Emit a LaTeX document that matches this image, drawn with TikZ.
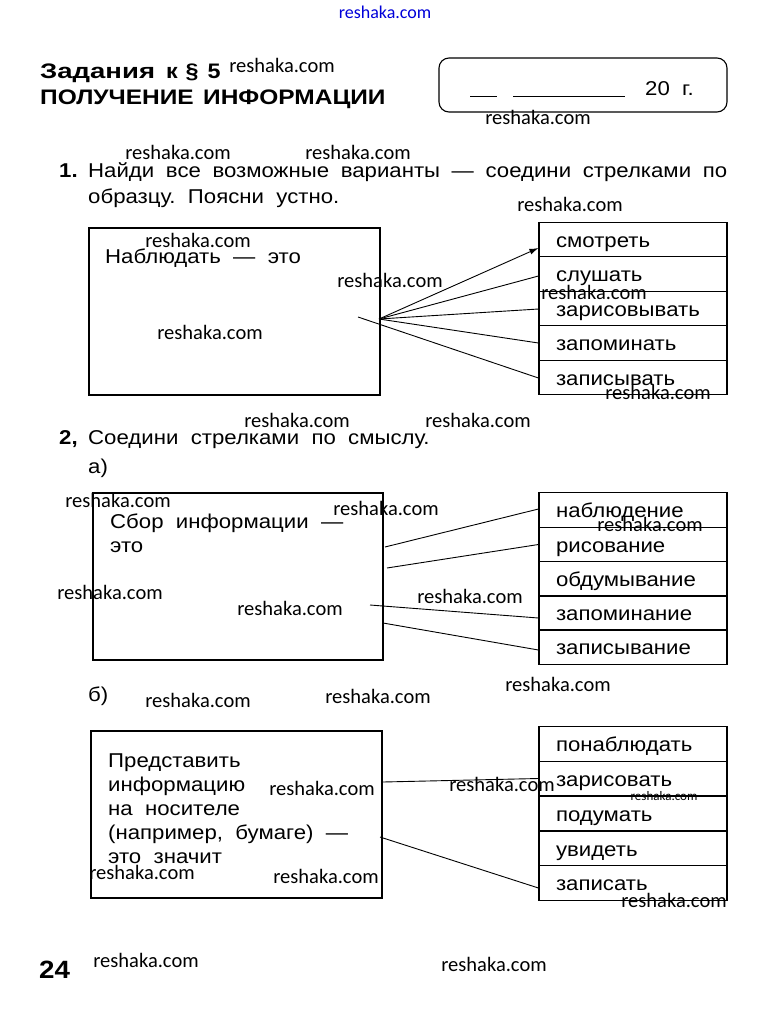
\documentclass[tikz,border=0pt]{standalone}
\usepackage{fontspec}
\setmainfont[FakeStretch=1.11]{Liberation Sans}
\newfontfamily\wmfont{Carlito}
\usetikzlibrary{arrows.meta,calc}
\tikzset{
  body/.style={font=\fontsize{20}{23}\selectfont, inner sep=0pt, anchor=base west},
  bold/.style={font=\fontsize{21}{24}\selectfont\bfseries, inner sep=0pt, anchor=base west},
  wm/.style={font=\wmfont\fontsize{20.5}{24}\selectfont, inner sep=0pt, anchor=base},
  frame/.style={draw, line width=1.1pt, minimum width=291pt, minimum height=167pt, inner sep=0pt},
  rowbox/.style={draw, line width=1.1pt, minimum width=188pt, minimum height=34.6pt,
    text width=154pt, align=left, inner xsep=17pt, inner ysep=0pt,
    text height=19pt, text depth=4pt, font=\fontsize{20}{23}\selectfont},
  link/.style={line width=0.9pt},
}
\begin{document}
\begin{tikzpicture}[x=1pt,y=-1pt]
\useasboundingbox[fill=white] (0,0) rectangle (767,1010);

% header
\node[wm, text=blue!85!black, font=\wmfont\fontsize{18}{20}\selectfont] (w0) at (385,18) {reshaka.com};
\node[bold] (h1) at (40,78) {\scalebox{1.18}[1]{Задания}\hspace{11pt}к\hspace{8pt}§\hspace{9pt}5};
\node[bold] (h2) at (40,104) {\scalebox{1.05}[1]{ПОЛУЧЕНИЕ\hspace{9pt}ИНФОРМАЦИИ}};
\node[draw, line width=1.1pt, rounded corners=10pt, minimum width=288pt, minimum height=54pt] (date) at (583,85) {};
\draw[line width=1pt] (470,96) -- (497,96) (513,96) -- (625,96);
\node[body] (year) at (645,95) {20\ \ г.};

% task 1
\node[bold, font=\fontsize{20}{23}\selectfont\bfseries] (n1) at (59,177) {1.};
\node[body] (t1a) at (88,177) {\makebox[639pt][s]{Найди все возможные варианты — соедини стрелками по}};
\node[body] (t1b) at (88,203) {образцу.\ \ Поясни\ \ устно.};

\node[frame] (lb1) at (234.5,311.5) {};
\node[body] (lb1t) at (105,263) {Наблюдать\ \ —\ \ это};

\node[rowbox] (r1) at (633,239.5) {смотреть};
\node[rowbox] (r2) at (633,274) {слушать};
\node[rowbox] (r3) at (633,308.5) {зарисовывать};
\node[rowbox] (r4) at (633,343) {запоминать};
\node[rowbox] (r5) at (633,377.5) {записывать};

\coordinate (c1) at (379,319);
\coordinate (c1b) at (358,317);
\draw[link,-{Latex[length=9pt,width=6pt]}] (c1) -- ($(r1.west)+(0,8.5)$);
\draw[link] (c1) -- ($(r2.west)+(0,2)$);
\draw[link] (c1) -- ($(r3.west)+(0,0.5)$);
\draw[link] (c1) -- (r4.west);
\draw[link] (c1b) -- ($(r5.west)+(0,0.5)$);

% task 2
\node[bold, font=\fontsize{20}{23}\selectfont\bfseries] (n2) at (59,444) {2,};
\node[body] (t2) at (88,444) {Соедини\ \ стрелками\ \ по\ \ смыслу.};
\node[body] (pa) at (88,473) {а)};

\node[frame, minimum width=290pt] (lb2) at (238,576.5) {};
\node[body] (lb2t1) at (110,528) {Сбор\ \ информации\ \ —};
\node[body] (lb2t2) at (110,552) {это};

\node[rowbox] (s1) at (633,510) {наблюдение};
\node[rowbox] (s2) at (633,544.5) {рисование};
\node[rowbox] (s3) at (633,579) {обдумывание};
\node[rowbox] (s4) at (633,613) {запоминание};
\node[rowbox] (s5) at (633,647) {записывание};

\coordinate (a1) at (385,547);
\coordinate (a2) at (387,568);
\coordinate (a3) at (370,605);
\coordinate (a4) at (383,623);
\draw[link] (a1) -- ($(s1.west)+(0,-1)$);
\draw[link] (a2) -- (s2.west);
\draw[link] (a3) -- ($(s4.west)+(0,5)$);
\draw[link] (a4) -- ($(s5.west)+(0,3)$);

% task 2b
\node[body] (pb) at (88,701) {б)};
\node[frame] (lb3) at (236.5,814.5) {};
\node[body] (lb3t1) at (108,767) {Представить};
\node[body] (lb3t2) at (108,791) {информацию};
\node[body] (lb3t3) at (108,815) {на\ \ носителе};
\node[body] (lb3t4) at (108,839) {(например,\ \ бумаге)\ \ —};
\node[body] (lb3t5) at (108,863) {это\ \ значит};

\node[rowbox] (q1) at (633,744) {понаблюдать};
\node[rowbox] (q2) at (633,778.5) {зарисовать};
\node[rowbox] (q3) at (633,813.5) {подумать};
\node[rowbox] (q4) at (633,848.5) {увидеть};
\node[rowbox] (q5) at (633,883) {записать};

\coordinate (b1) at (383,782);
\coordinate (b2) at (380,837);
\draw[link] (b1) -- (q2.west);
\draw[link] (b2) -- ($(q5.west)+(0,5)$);

% page number
\node[bold, font=\fontsize{25}{26}\selectfont\bfseries] (pg) at (39,978) {24};

% watermarks
\node[wm] (w1) at (282,72) {reshaka.com};
\node[wm] (w2) at (538,124) {reshaka.com};
\node[wm] (w3) at (178,159) {reshaka.com};
\node[wm] (w4) at (358,159) {reshaka.com};
\node[wm] (w5) at (570,211) {reshaka.com};
\node[wm] (w6) at (198,247) {reshaka.com};
\node[wm] (w7) at (390,287) {reshaka.com};
\node[wm] (w8) at (594,299) {reshaka.com};
\node[wm] (w9) at (210,339) {reshaka.com};
\node[wm] (w10) at (658,399) {reshaka.com};
\node[wm] (w11) at (297,427) {reshaka.com};
\node[wm] (w12) at (478,427) {reshaka.com};
\node[wm] (w13) at (118,507) {reshaka.com};
\node[wm] (w14) at (386,515) {reshaka.com};
\node[wm] (w15) at (650,531) {reshaka.com};
\node[wm] (w16) at (110,599) {reshaka.com};
\node[wm] (w17) at (290,615) {reshaka.com};
\node[wm] (w18) at (470,603) {reshaka.com};
\node[wm] (w19) at (198,707) {reshaka.com};
\node[wm] (w20) at (378,703) {reshaka.com};
\node[wm] (w21) at (558,691) {reshaka.com};
\node[wm] (w22) at (322,795) {reshaka.com};
\node[wm] (w23) at (502,791) {reshaka.com};
\node[wm, font=\wmfont\fontsize{13}{14}\selectfont] (w24) at (664,800) {reshaka.com};
\node[wm] (w25) at (674,907) {reshaka.com};
\node[wm] (w26) at (142,879) {reshaka.com};
\node[wm] (w27) at (326,883) {reshaka.com};
\node[wm] (w28) at (146,967) {reshaka.com};
\node[wm] (w29) at (494,971) {reshaka.com};
\end{tikzpicture}
\end{document}
